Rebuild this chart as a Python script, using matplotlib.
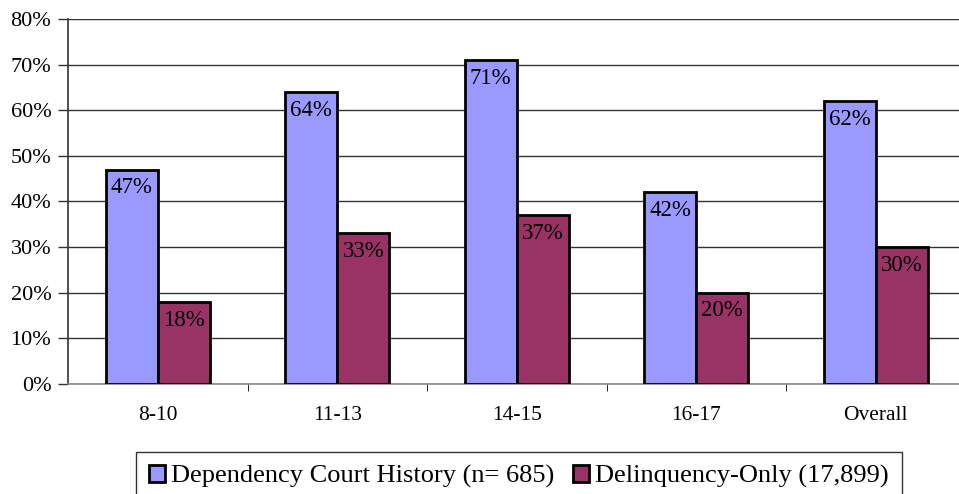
import numpy as np
import matplotlib.pyplot as plt

categories = ["8-10", "11-13", "14-15", "16-17", "Overall"]
dependency = [47, 64, 71, 42, 62]
delinquency = [18, 33, 37, 20, 30]
series_names = ["Dependency Court History (n= 685)", "Delinquency-Only (17,899)"]

plt.rcParams['font.family'] = ['Liberation Serif', 'DejaVu Serif']

fig = plt.figure(figsize=(9.59, 4.94), dpi=100)
ax = fig.add_axes([68/959, 1 - 384/494, 897.5/959, 365/494])

x = np.arange(len(categories))
w = 0.29
b1 = ax.bar(x - w/2, dependency, w, color='#9999FF', edgecolor='black', linewidth=2.0, label=series_names[0], zorder=3)
b2 = ax.bar(x + w/2, delinquency, w, color='#993366', edgecolor='black', linewidth=2.0, label=series_names[1], zorder=3)

for bars, vals in [(b1, dependency), (b2, delinquency)]:
    for rect, v in zip(bars, vals):
        ax.annotate(f"{v}%", (rect.get_x() + rect.get_width()/2, v), xytext=(0, -5.5),
                    textcoords='offset points', ha='center', va='top', fontsize=16.5, zorder=4)

ax.set_xlim(-0.5, len(categories) - 0.5)
ax.set_ylim(0, 80)
ax.set_yticks(range(0, 81, 10))
ax.set_yticklabels([f"{t}%" for t in range(0, 81, 10)], fontsize=16)
ax.yaxis.grid(True, color='#333333', linewidth=1.0, zorder=0)

ax.set_xticks(x)
ax.set_xticklabels(categories, fontsize=15.5)
ax.tick_params(axis='x', length=0, pad=16)
ax.set_xticks(np.arange(0.5, len(categories) - 0.5, 1), minor=True)
ax.tick_params(axis='x', which='minor', length=5, color='black')
ax.tick_params(axis='y', length=7, color='#333333', width=1.0, pad=5)

for s in ['top', 'right']:
    ax.spines[s].set_visible(False)
ax.spines['left'].set_color('#333333')
ax.spines['left'].set_linewidth(1.2)
ax.spines['bottom'].set_color('#888888')
ax.spines['bottom'].set_linewidth(1.2)

leg = fig.legend(loc='upper center', bbox_to_anchor=(519/959, 1 - 452/494), ncol=2,
                 fontsize=19, frameon=True, fancybox=False, edgecolor='black',
                 handlelength=0.6, handleheight=0.6, handletextpad=0.25, columnspacing=0.7,
                 borderpad=0.5, borderaxespad=0)
leg.get_frame().set_linewidth(1.0)

fig.savefig("out.png", dpi=100)
